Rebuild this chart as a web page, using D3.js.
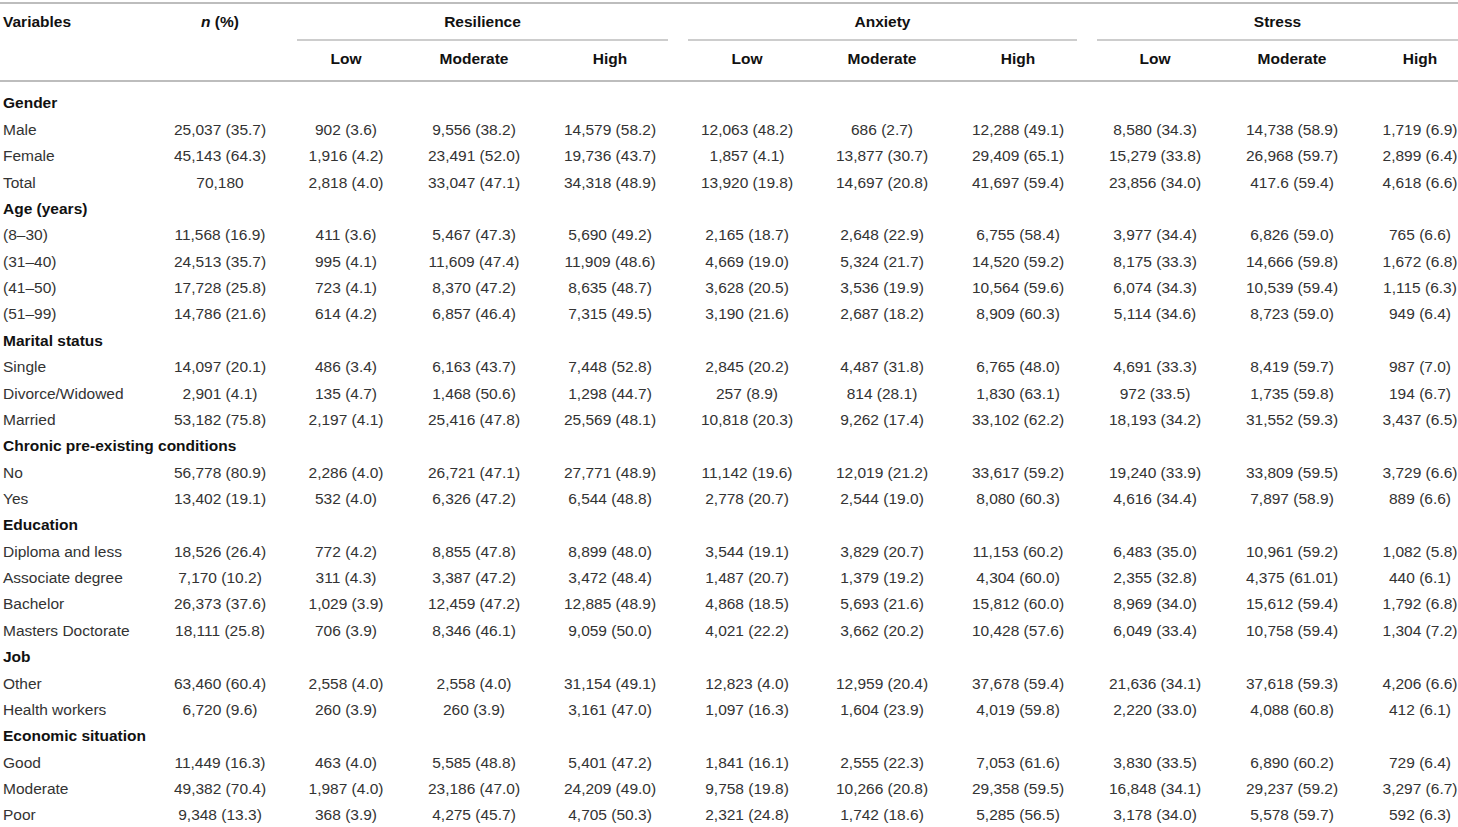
<!DOCTYPE html>
<html>
<head>
<meta charset="utf-8">
<script src="https://cdn.jsdelivr.net/npm/d3@7"></script>
<style>
  body { margin: 0; background: #fff; }
  svg { display: block; font-family: "Liberation Sans", Arial, Helvetica, sans-serif; }
</style>
</head>
<body>
<svg id="table"></svg>
<script>
// ---- data ----
const groupNames = ['Resilience', 'Anxiety', 'Stress'];
const levels = ['Low', 'Moderate', 'High'];

const sections = ['Gender', 'Age (years)', 'Marital status', 'Chronic pre-existing conditions', 'Education', 'Job', 'Economic situation'];
const sectionLabels = [
    ['Male', 'Female', 'Total'],
    ['(8–30)', '(31–40)', '(41–50)', '(51–99)'],
    ['Single', 'Divorce/Widowed', 'Married'],
    ['No', 'Yes'],
    ['Diploma and less', 'Associate degree', 'Bachelor', 'Masters Doctorate'],
    ['Other', 'Health workers'],
    ['Good', 'Moderate', 'Poor']
];

const nPct = ['25,037 (35.7)', '45,143 (64.3)', '70,180',
    '11,568 (16.9)', '24,513 (35.7)', '17,728 (25.8)', '14,786 (21.6)',
    '14,097 (20.1)', '2,901 (4.1)', '53,182 (75.8)',
    '56,778 (80.9)', '13,402 (19.1)',
    '18,526 (26.4)', '7,170 (10.2)', '26,373 (37.6)', '18,111 (25.8)',
    '63,460 (60.4)', '6,720 (9.6)',
    '11,449 (16.3)', '49,382 (70.4)', '9,348 (13.3)'];

const resilienceLow = ['902 (3.6)', '1,916 (4.2)', '2,818 (4.0)',
    '411 (3.6)', '995 (4.1)', '723 (4.1)', '614 (4.2)',
    '486 (3.4)', '135 (4.7)', '2,197 (4.1)',
    '2,286 (4.0)', '532 (4.0)',
    '772 (4.2)', '311 (4.3)', '1,029 (3.9)', '706 (3.9)',
    '2,558 (4.0)', '260 (3.9)',
    '463 (4.0)', '1,987 (4.0)', '368 (3.9)'];

const resilienceModerate = ['9,556 (38.2)', '23,491 (52.0)', '33,047 (47.1)',
    '5,467 (47.3)', '11,609 (47.4)', '8,370 (47.2)', '6,857 (46.4)',
    '6,163 (43.7)', '1,468 (50.6)', '25,416 (47.8)',
    '26,721 (47.1)', '6,326 (47.2)',
    '8,855 (47.8)', '3,387 (47.2)', '12,459 (47.2)', '8,346 (46.1)',
    '2,558 (4.0)', '260 (3.9)',
    '5,585 (48.8)', '23,186 (47.0)', '4,275 (45.7)'];

const resilienceHigh = ['14,579 (58.2)', '19,736 (43.7)', '34,318 (48.9)',
    '5,690 (49.2)', '11,909 (48.6)', '8,635 (48.7)', '7,315 (49.5)',
    '7,448 (52.8)', '1,298 (44.7)', '25,569 (48.1)',
    '27,771 (48.9)', '6,544 (48.8)',
    '8,899 (48.0)', '3,472 (48.4)', '12,885 (48.9)', '9,059 (50.0)',
    '31,154 (49.1)', '3,161 (47.0)',
    '5,401 (47.2)', '24,209 (49.0)', '4,705 (50.3)'];

const anxietyLow = ['12,063 (48.2)', '1,857 (4.1)', '13,920 (19.8)',
    '2,165 (18.7)', '4,669 (19.0)', '3,628 (20.5)', '3,190 (21.6)',
    '2,845 (20.2)', '257 (8.9)', '10,818 (20.3)',
    '11,142 (19.6)', '2,778 (20.7)',
    '3,544 (19.1)', '1,487 (20.7)', '4,868 (18.5)', '4,021 (22.2)',
    '12,823 (4.0)', '1,097 (16.3)',
    '1,841 (16.1)', '9,758 (19.8)', '2,321 (24.8)'];

const anxietyModerate = ['686 (2.7)', '13,877 (30.7)', '14,697 (20.8)',
    '2,648 (22.9)', '5,324 (21.7)', '3,536 (19.9)', '2,687 (18.2)',
    '4,487 (31.8)', '814 (28.1)', '9,262 (17.4)',
    '12,019 (21.2)', '2,544 (19.0)',
    '3,829 (20.7)', '1,379 (19.2)', '5,693 (21.6)', '3,662 (20.2)',
    '12,959 (20.4)', '1,604 (23.9)',
    '2,555 (22.3)', '10,266 (20.8)', '1,742 (18.6)'];

const anxietyHigh = ['12,288 (49.1)', '29,409 (65.1)', '41,697 (59.4)',
    '6,755 (58.4)', '14,520 (59.2)', '10,564 (59.6)', '8,909 (60.3)',
    '6,765 (48.0)', '1,830 (63.1)', '33,102 (62.2)',
    '33,617 (59.2)', '8,080 (60.3)',
    '11,153 (60.2)', '4,304 (60.0)', '15,812 (60.0)', '10,428 (57.6)',
    '37,678 (59.4)', '4,019 (59.8)',
    '7,053 (61.6)', '29,358 (59.5)', '5,285 (56.5)'];

const stressLow = ['8,580 (34.3)', '15,279 (33.8)', '23,856 (34.0)',
    '3,977 (34.4)', '8,175 (33.3)', '6,074 (34.3)', '5,114 (34.6)',
    '4,691 (33.3)', '972 (33.5)', '18,193 (34.2)',
    '19,240 (33.9)', '4,616 (34.4)',
    '6,483 (35.0)', '2,355 (32.8)', '8,969 (34.0)', '6,049 (33.4)',
    '21,636 (34.1)', '2,220 (33.0)',
    '3,830 (33.5)', '16,848 (34.1)', '3,178 (34.0)'];

const stressModerate = ['14,738 (58.9)', '26,968 (59.7)', '417.6 (59.4)',
    '6,826 (59.0)', '14,666 (59.8)', '10,539 (59.4)', '8,723 (59.0)',
    '8,419 (59.7)', '1,735 (59.8)', '31,552 (59.3)',
    '33,809 (59.5)', '7,897 (58.9)',
    '10,961 (59.2)', '4,375 (61.01)', '15,612 (59.4)', '10,758 (59.4)',
    '37,618 (59.3)', '4,088 (60.8)',
    '6,890 (60.2)', '29,237 (59.2)', '5,578 (59.7)'];

const stressHigh = ['1,719 (6.9)', '2,899 (6.4)', '4,618 (6.6)',
    '765 (6.6)', '1,672 (6.8)', '1,115 (6.3)', '949 (6.4)',
    '987 (7.0)', '194 (6.7)', '3,437 (6.5)',
    '3,729 (6.6)', '889 (6.6)',
    '1,082 (5.8)', '440 (6.1)', '1,792 (6.8)', '1,304 (7.2)',
    '4,206 (6.6)', '412 (6.1)',
    '729 (6.4)', '3,297 (6.7)', '592 (6.3)'];

const valueColumns = [nPct, resilienceLow, resilienceModerate, resilienceHigh,
    anxietyLow, anxietyModerate, anxietyHigh, stressLow, stressModerate, stressHigh];

// ---- layout ----
const width = 1458, height = 827;
const colKeys = d3.range(valueColumns.length);
const colCenters = [220, 346, 474, 610, 747, 882, 1018, 1155, 1292, 1420];
const groupSpans = [[297, 668], [688, 1077], [1097, 1458]];
const labelX = 3;
const fontSize = '15.5px';
const lineColor = '#bdbdbd';
const textColor = '#333';

// build row list: section header rows + data rows
const rows = [];
let k = 0;
sections.forEach((s, i) => {
    rows.push({ label: s, header: true });
    sectionLabels[i].forEach(l => {
        rows.push({ label: l, header: false, values: valueColumns.map(c => c[k]) });
        k++;
    });
});

const svg = d3.select('#table')
    .attr('width', width)
    .attr('height', height);

const x = d3.scaleOrdinal().domain(colKeys).range(colCenters);
const y = d3.scalePoint()
    .domain(d3.range(rows.length))
    .range([103, 815]);

// rules
const rule = (x1, x2, yy) => svg.append('line')
    .attr('x1', x1).attr('x2', x2).attr('y1', yy).attr('y2', yy)
    .attr('stroke', lineColor).attr('stroke-width', 2);
rule(0, width, 3);
rule(0, width, 81);
groupSpans.forEach(s => svg.append('line')
    .attr('x1', s[0]).attr('x2', s[1]).attr('y1', 40).attr('y2', 40)
    .attr('stroke', lineColor).attr('stroke-width', 1.5));

// header
const head = svg.append('g')
    .style('font-size', fontSize)
    .style('font-weight', 'bold')
    .attr('fill', '#111');

head.append('text')
    .attr('x', labelX).attr('y', 22).attr('dy', '0.35em')
    .text('Variables');

const nHead = head.append('text')
    .attr('x', x(0)).attr('y', 22).attr('dy', '0.35em')
    .attr('text-anchor', 'middle');
nHead.append('tspan').style('font-style', 'italic').text('n');
nHead.append('tspan').text(' (%)');

head.selectAll('.group')
    .data(groupNames)
    .join('text')
    .attr('class', 'group')
    .attr('x', (d, i) => (groupSpans[i][0] + groupSpans[i][1]) / 2)
    .attr('y', 22).attr('dy', '0.35em')
    .attr('text-anchor', 'middle')
    .text(d => d);

head.selectAll('.level')
    .data(d3.range(9))
    .join('text')
    .attr('class', 'level')
    .attr('x', i => x(i + 1))
    .attr('y', 59).attr('dy', '0.35em')
    .attr('text-anchor', 'middle')
    .text(i => levels[i % 3]);

// body
const body = svg.append('g').style('font-size', fontSize);

const row = body.selectAll('.row')
    .data(rows)
    .join('g')
    .attr('class', 'row')
    .attr('transform', (d, i) => `translate(0, ${y(i)})`);

row.append('text')
    .attr('x', labelX)
    .attr('dy', '0.35em')
    .attr('fill', d => d.header ? '#111' : textColor)
    .style('font-weight', d => d.header ? 'bold' : 'normal')
    .text(d => d.label);

row.filter(d => !d.header)
    .selectAll('.cell')
    .data(d => d.values)
    .join('text')
    .attr('class', 'cell')
    .attr('x', (d, i) => x(i))
    .attr('dy', '0.35em')
    .attr('text-anchor', 'middle')
    .attr('fill', textColor)
    .text(d => d);
</script>
</body>
</html>
